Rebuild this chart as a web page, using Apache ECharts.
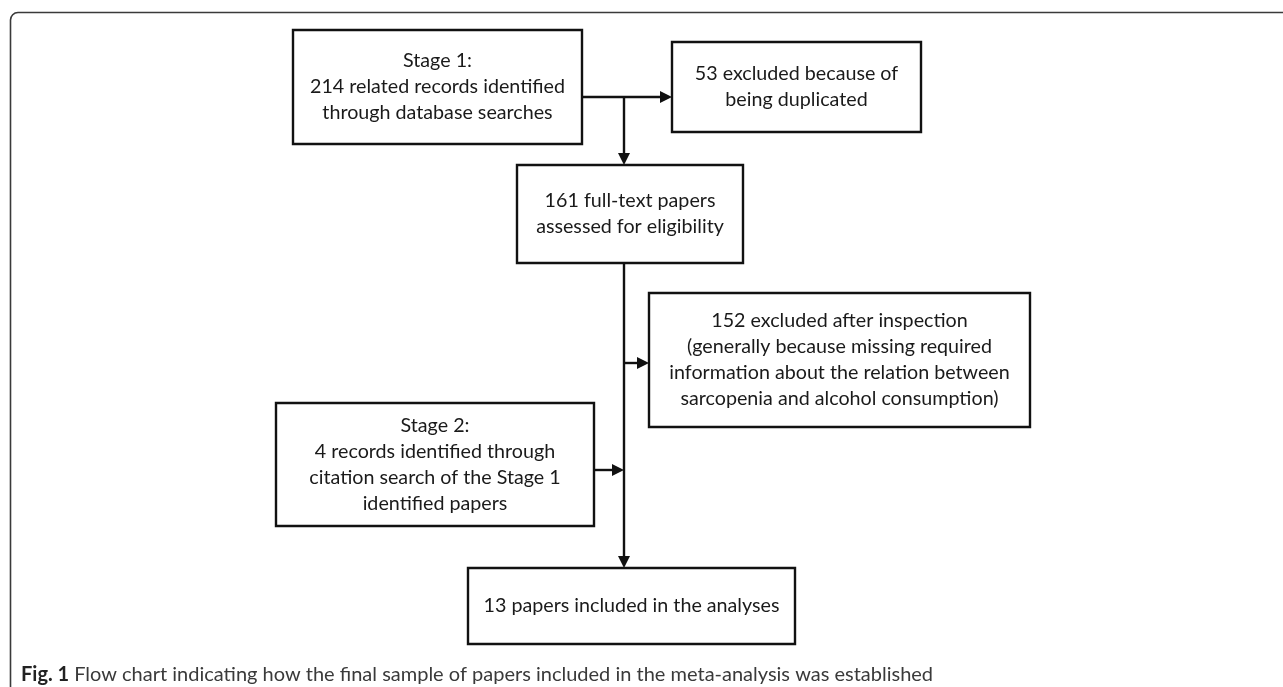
<!DOCTYPE html>
<html>
<head>
<meta charset="utf-8">
<script src="https://cdn.jsdelivr.net/npm/echarts@6/dist/echarts.min.js"></script>
<style>
html,body{margin:0;padding:0;background:#fff;}
#chart{width:1283px;height:687px;}
</style>
</head>
<body>
<div id="chart"></div>
<script>
// ---- data ----
const recordCounts = { stage1: 214, duplicated: 53, fullText: 161, excluded: 152, stage2: 4, included: 13 };

const boxLabels = [
  ['Stage 1:', recordCounts.stage1 + ' related records identified', 'through database searches'],
  [recordCounts.duplicated + ' excluded because of', 'being duplicated'],
  [recordCounts.fullText + ' full-text papers', 'assessed for eligibility'],
  [recordCounts.excluded + ' excluded after inspection', '(generally because missing required', 'information about the relation between', 'sarcopenia and alcohol consumption)'],
  ['Stage 2:', recordCounts.stage2 + ' records identified through', 'citation search of the Stage 1', 'identified papers'],
  [recordCounts.included + ' papers included in the analyses']
];

const captionBold = 'Fig. 1';
const captionText = 'Flow chart indicating how the final sample of papers included in the meta-analysis was established';

// ---- layout (diagram units on hidden axes) ----
const boxLayout = [
  [293, 30, 582, 144],
  [672, 42, 921, 132],
  [517, 165, 743, 263],
  [649, 293, 1030, 427],
  [276, 403, 594, 526],
  [468, 568, 795, 644]
];
const connectors = [
  [582, 97, 624, 97]
];
const arrows = [
  [624, 97, 672, 97],
  [624, 97, 624, 165],
  [624, 263, 624, 568],
  [624, 363, 649, 363],
  [594, 470, 624, 470]
];

const boxFont = 'Lato, "Open Sans", sans-serif';
const chart = echarts.init(document.getElementById('chart'));

chart.setOption({
  animation: false,
  backgroundColor: '#ffffff',
  grid: { left: 0, right: 0, top: 0, bottom: 0 },
  xAxis: { type: 'value', min: 0, max: 1283, show: false },
  yAxis: { type: 'value', min: 0, max: 687, inverse: true, show: false },
  title: {
    left: 16, top: 660,
    text: '{b|' + captionBold + '} {r|' + captionText + '}',
    textStyle: {
      rich: {
        b: { fontFamily: boxFont, fontWeight: 'bold', fontSize: 20, color: '#222' },
        r: { fontFamily: boxFont, fontWeight: 'normal', fontSize: 20, color: '#3a3a3a' }
      }
    }
  },
  graphic: [
    { type: 'line', silent: true, shape: { x1: 10.5, y1: 20, x2: 10.5, y2: 700 }, style: { stroke: '#3a3a3a', lineWidth: 1.6 } },
    { type: 'line', silent: true, shape: { x1: 18, y1: 12.5, x2: 1290, y2: 12.5 }, style: { stroke: '#3a3a3a', lineWidth: 1.6 } },
    { type: 'arc', silent: true, shape: { cx: 18, cy: 20, r: 7.5, startAngle: Math.PI, endAngle: Math.PI * 1.5 }, style: { fill: null, stroke: '#3a3a3a', lineWidth: 1.6 } }
  ],
  series: [
    {
      type: 'custom',
      coordinateSystem: 'cartesian2d',
      data: connectors,
      renderItem: function (params, api) {
        const a = api.coord([api.value(0), api.value(1)]);
        const b = api.coord([api.value(2), api.value(3)]);
        return { type: 'line', shape: { x1: a[0], y1: a[1], x2: b[0], y2: b[1] }, style: { stroke: '#111', lineWidth: 2.4 } };
      }
    },
    {
      type: 'custom',
      coordinateSystem: 'cartesian2d',
      data: arrows,
      renderItem: function (params, api) {
        const a = api.coord([api.value(0), api.value(1)]);
        const b = api.coord([api.value(2), api.value(3)]);
        const dx = b[0] - a[0], dy = b[1] - a[1];
        const len = Math.sqrt(dx * dx + dy * dy);
        const ux = dx / len, uy = dy / len;
        const hl = 12, hw = 6;
        const bx = b[0] - ux * hl, by = b[1] - uy * hl;
        return {
          type: 'group',
          children: [
            { type: 'line', shape: { x1: a[0], y1: a[1], x2: bx, y2: by }, style: { stroke: '#111', lineWidth: 2.4 } },
            { type: 'polygon', shape: { points: [[b[0], b[1]], [bx - uy * hw, by + ux * hw], [bx + uy * hw, by - ux * hw]] }, style: { fill: '#111' } }
          ]
        };
      }
    },
    {
      type: 'custom',
      coordinateSystem: 'cartesian2d',
      data: boxLayout.map(function (b, i) { return b.concat([i]); }),
      renderItem: function (params, api) {
        const p0 = api.coord([api.value(0), api.value(1)]);
        const p1 = api.coord([api.value(2), api.value(3)]);
        const idx = api.value(4);
        return {
          type: 'group',
          children: [
            { type: 'rect', shape: { x: p0[0], y: p0[1], width: p1[0] - p0[0], height: p1[1] - p0[1] },
              style: { fill: '#fff', stroke: '#111', lineWidth: 2.4 } },
            { type: 'text', x: (p0[0] + p1[0]) / 2, y: (p0[1] + p1[1]) / 2,
              style: { text: boxLabels[idx].join('\n'), align: 'center', verticalAlign: 'middle',
                fontFamily: boxFont, fontSize: 19.7, lineHeight: 26, fill: '#1a1a1a' } }
          ]
        };
      }
    }
  ]
});
</script>
</body>
</html>
